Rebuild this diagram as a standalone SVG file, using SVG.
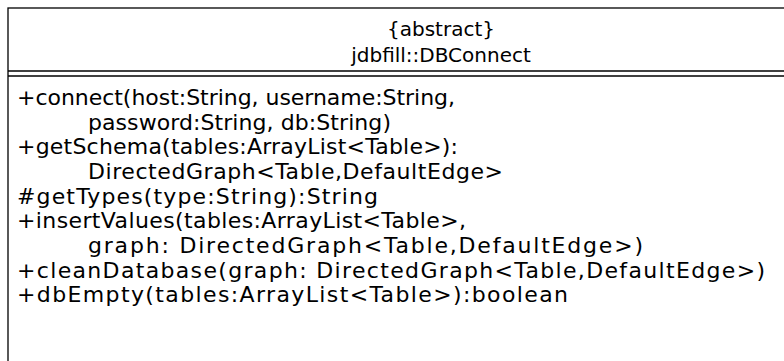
<svg xmlns="http://www.w3.org/2000/svg" width="784" height="361" viewBox="0 0 784 361">
  <style>
    .frame { fill: #ffffff; stroke: #000000; stroke-width: 1.3; }
    .rule { stroke: #000000; stroke-width: 1.3; fill: none; }
    .hdr { font-family: "DejaVu Sans", sans-serif; font-size: 20px; fill: #000000; text-anchor: middle; }
    .op { font-family: "DejaVu Sans", sans-serif; font-size: 22px; fill: #000000; }
  </style>
  <rect width="784" height="361" fill="#ffffff"/>
  <g id="DBConnect">
    <!-- class box runs past the right and bottom edges -->
    <rect class="frame" x="8" y="8" width="800" height="380"/>
    <line class="rule" x1="8" y1="71" x2="808" y2="71"/>
    <line class="rule" x1="8" y1="76" x2="808" y2="76"/>
    <text class="hdr" x="441" y="36">{abstract}</text>
    <text class="hdr" x="441" y="62">jdbfill::DBConnect</text>
    <text class="op" x="17" y="105" textLength="438">+connect(host:String, username:String,</text>
    <text class="op" x="88" y="130" textLength="303">password:String, db:String)</text>
    <text class="op" x="17" y="154" textLength="441">+getSchema(tables:ArrayList&lt;Table&gt;):</text>
    <text class="op" x="88" y="179" textLength="415">DirectedGraph&lt;Table,DefaultEdge&gt;</text>
    <text class="op" x="17" y="204" textLength="361">#getTypes(type:String):String</text>
    <text class="op" x="17" y="228" textLength="449">+insertValues(tables:ArrayList&lt;Table&gt;,</text>
    <text class="op" x="88" y="253" textLength="555">graph: DirectedGraph&lt;Table,DefaultEdge&gt;)</text>
    <text class="op" x="17" y="278" textLength="748">+cleanDatabase(graph: DirectedGraph&lt;Table,DefaultEdge&gt;)</text>
    <text class="op" x="17" y="302" textLength="551">+dbEmpty(tables:ArrayList&lt;Table&gt;):boolean</text>
  </g>
</svg>
